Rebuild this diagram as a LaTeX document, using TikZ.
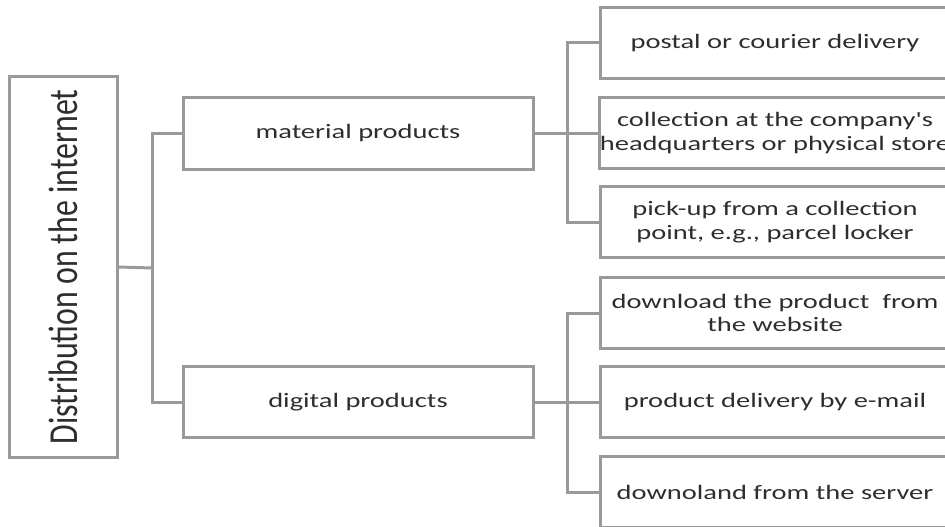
\documentclass[tikz,border=0pt]{standalone}
\usepackage{fontspec}
\setmainfont{Carlito}
\newfontfamily\widefont{Carlito}[FakeStretch=1.39]
\usetikzlibrary{positioning}
\definecolor{boxgray}{HTML}{9A9A9A}
\definecolor{textgray}{HTML}{2E2E2E}

\begin{document}
\begin{tikzpicture}[x=1pt,y=-1pt] \tikzset{box/.style={draw=boxgray, line width=3pt, fill=white, minimum width=350pt, minimum height=71pt, inner sep=0pt, align=center, text=textgray, font=\widefont\fontsize{20.5}{23.5}\selectfont}, link/.style={boxgray, line width=3pt}}
\useasboundingbox (0,0) rectangle (945,527);
\clip (0,0) rectangle (945,527);
\node (root) at (63,267) [box, minimum width=108pt, minimum height=380pt] {\rotatebox{90}{\scalebox{1}[1.8]{\fontsize{22.9}{28}\selectfont Distribution on the internet}}};
\node (mat) at (358,133) [box, minimum height=72pt] {material products};
\node (dig) at (358,402) [box] {digital products};
\node (post) at (775,43) [box] {postal or courier delivery};
\node (store) at (775,133) [box] {collection at the company's\\headquarters or physical store};
\node (locker) at (775,222) [box] {pick-up from a collection\\point, e.g., parcel locker};
\node (web) at (775,313) [box] {download the product\ \ from\\the website};
\node (mail) at (775,402) [box] {product delivery by e-mail};
\node (server) at (775,492) [box] {downoland from the server};
\coordinate (rj) at (152,268);
\coordinate (mj) at (567,133);
\coordinate (dj) at (567,402);
\draw [link] (root.east) -- (rj);
\draw [link] (mat.west) -| (rj);
\draw [link] (dig.west) -| (rj);
\draw [link] (mat.east) -- (mj);
\foreach \leaf in {post,store,locker}
\draw [link] (\leaf.west) -| (mj);
\draw [link] (dig.east) -- (dj);
\foreach \leaf in {web,mail,server}
\draw [link] (\leaf.west) -| (dj);
\end{tikzpicture}
\end{document}
